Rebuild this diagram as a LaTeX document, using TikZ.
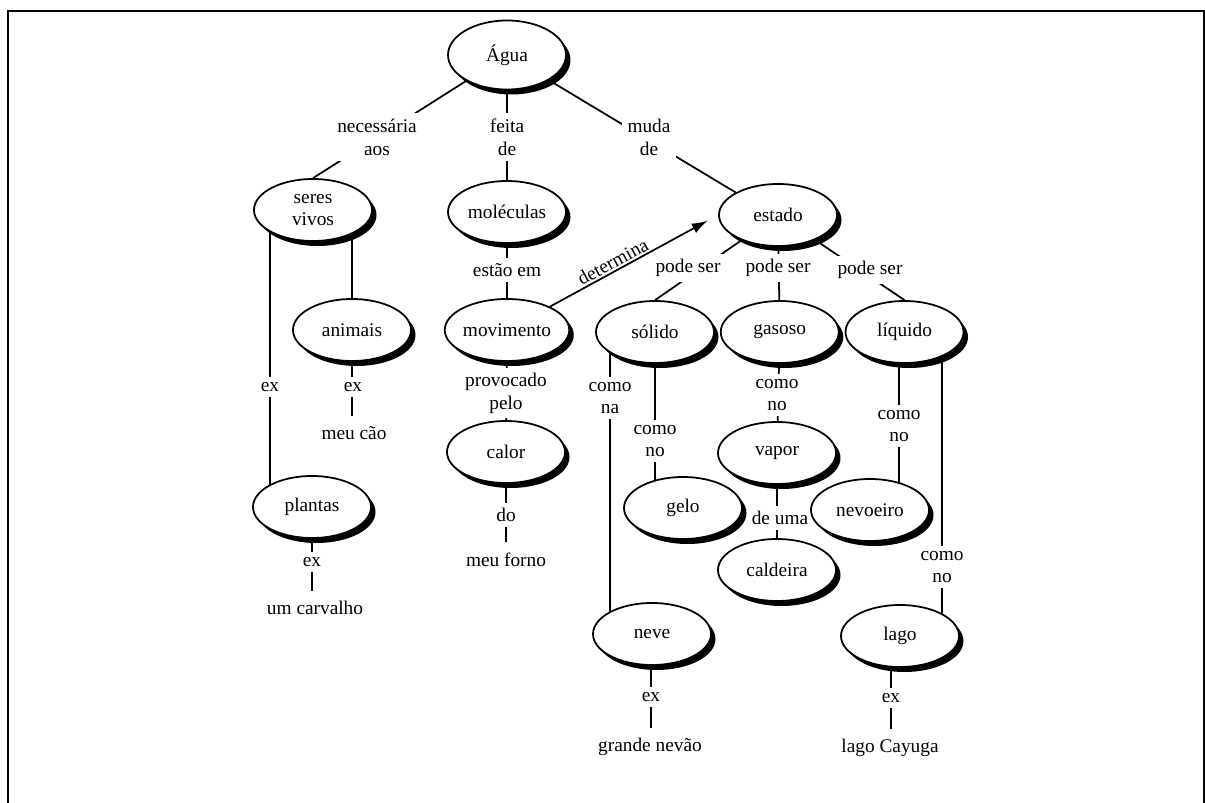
\documentclass[tikz,border=0pt]{standalone}
\usepackage{fontspec}
\setmainfont{Liberation Serif}
\usetikzlibrary{shapes,arrows,arrows.meta,positioning,shadows,backgrounds}
\tikzset{
concept/.style={
  ellipse,
  draw,
  line width=1pt,
  fill=white,
  minimum width=2.36cm,
  minimum height=1.24cm,
  inner sep=0pt,
  align=center,
  drop shadow={shadow xshift=.09cm, shadow yshift=-.1cm, fill=black, opacity=1}},
linking/.style={
  fill=white,
  inner sep=3pt,
  align=center},
example/.style={
  fill=white,
  inner xsep=2pt,
  inner ysep=6pt},
line/.style={draw, line width=1pt, -{Latex[length=9pt, width=6pt]}},
edge/.style={draw, line width=1pt}
}

\begin{document}
\begin{tikzpicture}[font=\fontsize{11}{13}\selectfont]
    \useasboundingbox (0,0) rectangle (24.1,-16.06);
    \draw[line width=1.5pt] (0.16,-16.2) -- (0.16,-0.22) -- (24.08,-0.22) -- (24.08,-16.2);
    % linking words
    \node[linking] (nec) at (7.54,-2.74) {necessária\\aos};
    \node[linking] (feita) at (10.14,-2.74) {feita\\de};
    \node[linking] (muda) at (12.98,-2.74) {muda\\de};
    \node[linking] (estao) at (10.14,-5.40) {estão em};
    \node[linking] (ps1) at (13.76,-5.36) {pode ser};
    \node[linking] (ps2) at (15.56,-5.36) {pode ser};
    \node[linking] (ps3) at (17.40,-5.40) {pode ser};
    \node[linking] (exa) at (5.40,-7.74) {ex};
    \node[linking] (exb) at (7.06,-7.74) {ex};
    \node[linking] (prov) at (10.12,-7.86) {provocado\\pelo};
    \node[linking] (na) at (12.20,-7.96) {como\\na};
    \node[linking] (noa) at (13.10,-8.82) {como\\no};
    \node[linking] (nob) at (15.54,-7.90) {como\\no};
    \node[linking] (noc) at (17.98,-8.52) {como\\no};
    \node[linking] (nod) at (18.84,-11.34) {como\\no};
    \node[linking] (deuma) at (15.60,-10.36) {de uma};
    \node[linking] (do) at (10.12,-10.30) {do};
    \node[linking] (exc) at (6.24,-11.24) {ex};
    \node[linking] (exd) at (13.02,-13.94) {ex};
    \node[linking] (exe) at (17.82,-13.96) {ex};
    % examples
    \node[example] (meucao) at (7.08,-8.66) {meu cão};
    \node[example] (forno) at (10.12,-11.20) {meu forno};
    \node[example] (carvalho) at (6.30,-12.16) {um carvalho};
    \node[example] (nevao) at (13.00,-14.94) {grande nevão};
    \node[example] (cayuga) at (17.80,-14.96) {lago Cayuga};
    % concepts
    \node[concept, minimum height=1.38cm] (agua) at (10.14,-1.10) {Água};
    \node[concept] (seres) at (6.26,-4.20) {seres\\vivos};
    \node[concept] (moleculas) at (10.14,-4.24) {moléculas};
    \node[concept] (estado) at (15.56,-4.30) {estado};
    \node[concept] (animais) at (7.04,-6.60) {animais};
    \node[concept] (movimento) at (10.14,-6.60) {movimento};
    \node[concept] (solido) at (13.10,-6.64) {sólido};
    \node[concept, right=.1cm of solido] (gasoso) {gasoso};
    \node[concept, right=.1cm of gasoso] (liquido) {líquido};
    \node[concept] (calor) at (10.12,-9.04) {calor};
    \node[concept] (vapor) at (15.54,-9.06) {vapor};
    \node[concept] (plantas) at (6.24,-10.14) {plantas};
    \node[concept] (gelo) at (13.66,-10.16) {gelo};
    \node[concept] (nevoeiro) at (17.40,-10.20) {nevoeiro};
    \node[concept] (caldeira) at (15.54,-11.40) {caldeira};
    \node[concept] (neve) at (13.04,-12.68) {neve};
    \node[concept] (lago) at (18.00,-12.72) {lago};
    % connectors
    \begin{scope}[on background layer]
    \path[edge] (agua) -- (seres.north);
    \path[edge] (agua) -- (moleculas);
    \path[edge] (agua) -- (estado.north west);
    \path[edge] (moleculas) -- (movimento);
    \path[edge] (estado) -- (solido.north);
    \path[edge] (estado) -- (gasoso);
    \path[edge] (estado) -- (liquido.north);
    \path[edge] (exa |- seres) -- (exa |- plantas);
    \path[edge] (animais |- seres) -- (animais) -- (animais |- meucao);
    \path[edge] (movimento) -- (calor) -- (forno);
    \path[edge] (exc |- plantas) -- (exc |- carvalho);
    \path[edge] (na |- solido) -- (na |- neve);
    \path[edge] (noa |- solido) -- (noa |- gelo);
    \path[edge] (gasoso) -- (vapor) -- (caldeira);
    \path[edge] (noc |- liquido) -- (noc |- nevoeiro);
    \path[edge] (nod |- liquido) -- (nod |- lago);
    \path[edge] (exd |- neve) -- (exd |- nevao);
    \path[edge] (exe |- lago) -- (exe |- cayuga);
    \end{scope}
    \path[line, shorten >=.24cm] (movimento) -- node[sloped, above, pos=.4, inner sep=1pt] (det) {determina} (estado.west);
\end{tikzpicture}
\end{document}
